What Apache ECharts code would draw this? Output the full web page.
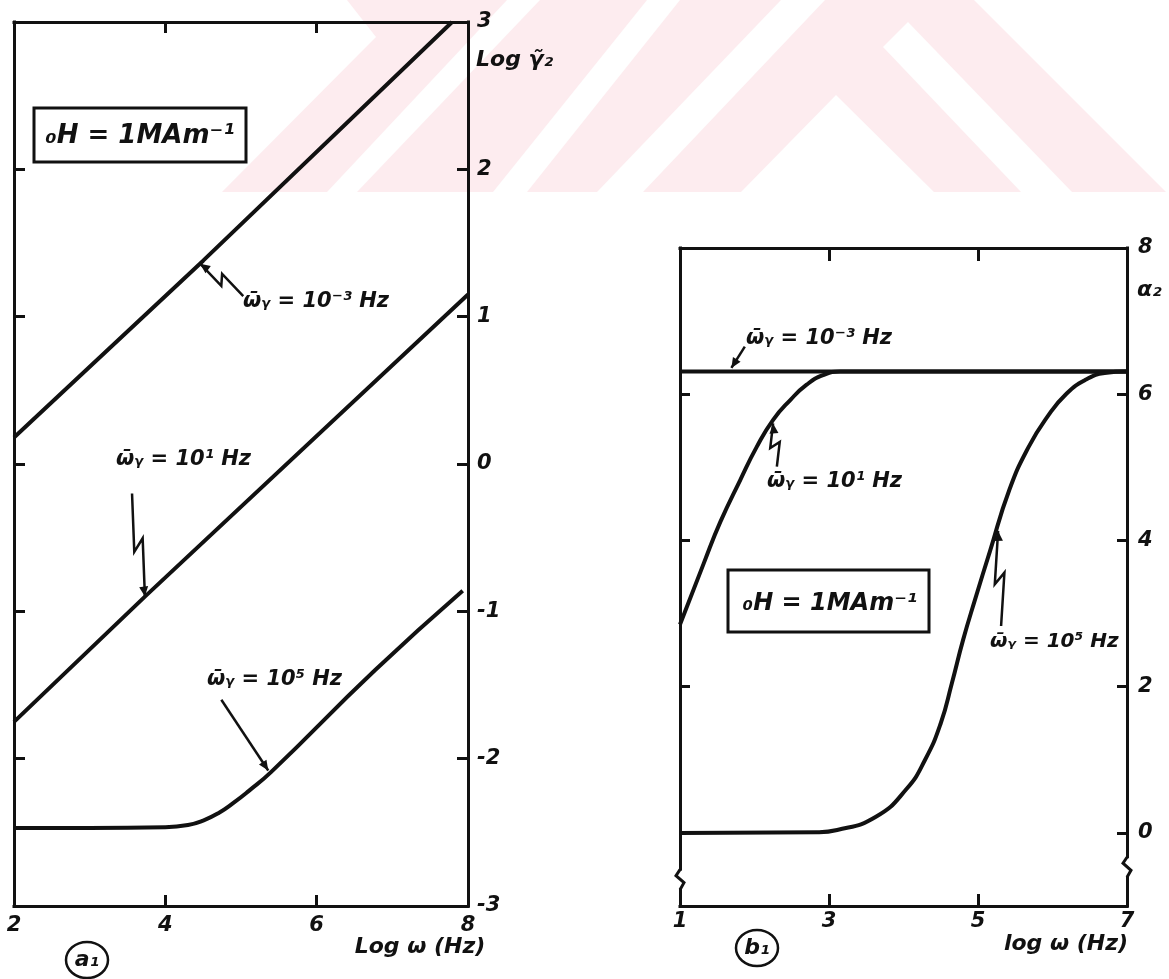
<!DOCTYPE html>
<html>
<head>
<meta charset="utf-8">
<title>γ₂ and α₂ versus log ω</title>
<script src="https://cdn.jsdelivr.net/npm/echarts@6.0.0/dist/echarts.min.js"></script>
<style>
  html, body { margin: 0; padding: 0; background: #fff; }
  #chart { width: 1169px; height: 979px; }
</style>
</head>
<body>
<div id="chart"></div>
<script>
// ---- panel (a1): log γ₂ against log ω ----
const aAxisX = [2, 8];          // log ω range
const aAxisY = [-3, 3];         // log γ₂ range
// ω̄γ = 10⁻³ Hz
const aW3X = [2, 4.5, 7.79];
const aW3Y = [0.18, 1.38, 3.0];
// ω̄γ = 10¹ Hz
const aW1X = [2, 3.73, 8];
const aW1Y = [-1.75, -0.9, 1.15];
// ω̄γ = 10⁵ Hz
const aW5X = [2, 3, 4, 4.3, 4.5, 4.7, 4.9, 5.1, 5.4, 6.77, 7.93];
const aW5Y = [-2.47, -2.47, -2.465, -2.45, -2.42, -2.37, -2.3, -2.22, -2.09, -1.4, -0.86];

// ---- panel (b1): α₂ against log ω ----
const bAxisX = [1, 7];
const bAxisY = [-1, 8];
const bLabelsX = [1, 3, 5, 7];
const bLabelsY = [0, 2, 4, 6, 8];
// ω̄γ = 10⁻³ Hz
const bW3X = [1, 7];
const bW3Y = [6.31, 6.31];
// ω̄γ = 10¹ Hz
const bW1X = [1, 1.32, 1.54, 1.81, 2.03, 2.25, 2.48, 2.7, 2.92, 3.15, 7];
const bW1Y = [2.85, 3.69, 4.25, 4.83, 5.28, 5.65, 5.92, 6.13, 6.26, 6.31, 6.31];
// ω̄γ = 10⁵ Hz
const bW5X = [1, 2.85, 3.11, 3.63, 4.04, 4.29, 4.5, 4.65, 4.8, 4.96, 5.16, 5.42, 5.68, 5.93, 6.19, 6.45, 6.7, 7];
const bW5Y = [0, 0.01, 0.04, 0.22, 0.6, 1.0, 1.5, 2.05, 2.64, 3.19, 3.85, 4.69, 5.28, 5.69, 6.01, 6.2, 6.29, 6.31];

const INK = '#111';
const FONT = '"DejaVu Sans", sans-serif';
const zip = (xs, ys) => xs.map((x, i) => [x, ys[i]]);

const labelStyle = {
  color: INK, fontFamily: FONT, fontStyle: 'italic', fontWeight: 'bold', fontSize: 21
};
const frameLine = { lineStyle: { color: INK, width: 3, cap: 'square' } };

function frameAxis(extra) {
  return Object.assign({
    type: 'value',
    axisLine: Object.assign({ show: true, onZero: false }, frameLine),
    axisTick: { show: true, inside: true, length: 11, lineStyle: { color: INK, width: 3 } },
    axisLabel: { show: false },
    splitLine: { show: false }
  }, extra);
}

function curve(name, xs, ys, xi, yi, smooth) {
  return {
    name, type: 'line', xAxisIndex: xi, yAxisIndex: yi,
    data: zip(xs, ys), showSymbol: false, symbol: 'none',
    smooth: smooth ? 0.5 : false,
    lineStyle: { color: INK, width: 4 }, z: 5, silent: true
  };
}

const chart = echarts.init(document.getElementById('chart'), null, { renderer: 'canvas' });

chart.setOption({
  backgroundColor: '#fff',
  animation: false,
  grid: [
    { left: 14, top: 22, width: 454, height: 884, containLabel: false },
    { left: 680, top: 248, width: 447, height: 658, containLabel: false }
  ],
  xAxis: [
    frameAxis({ gridIndex: 0, position: 'bottom', min: aAxisX[0], max: aAxisX[1], interval: 2,
      axisLabel: Object.assign({ show: true, margin: 9 }, labelStyle) }),
    frameAxis({ gridIndex: 0, position: 'top', min: aAxisX[0], max: aAxisX[1], interval: 2 }),
    frameAxis({ gridIndex: 1, position: 'bottom', min: bAxisX[0], max: bAxisX[1], interval: 1,
      axisTick: { show: true, inside: true, length: 12, customValues: [3, 5], lineStyle: { color: INK, width: 3 } },
      axisLabel: Object.assign({ show: true, margin: 5, customValues: bLabelsX }, labelStyle) }),
    frameAxis({ gridIndex: 1, position: 'top', min: bAxisX[0], max: bAxisX[1], interval: 1,
      axisTick: { show: true, inside: true, length: 13, customValues: [3, 5], lineStyle: { color: INK, width: 3 } } })
  ],
  yAxis: [
    frameAxis({ gridIndex: 0, position: 'left', min: aAxisY[0], max: aAxisY[1], interval: 1 }),
    frameAxis({ gridIndex: 0, position: 'right', min: aAxisY[0], max: aAxisY[1], interval: 1,
      axisLabel: Object.assign({ show: true, margin: 9, align: 'left' }, labelStyle) }),
    frameAxis({ gridIndex: 1, position: 'left', min: bAxisY[0], max: bAxisY[1], interval: 1,
      axisTick: { show: true, inside: true, length: 10, customValues: [2, 4, 6], lineStyle: { color: INK, width: 3 } } }),
    frameAxis({ gridIndex: 1, position: 'right', min: bAxisY[0], max: bAxisY[1], interval: 1,
      axisTick: { show: true, inside: true, length: 10, customValues: [0, 2, 4, 6], lineStyle: { color: INK, width: 3 } },
      axisLabel: Object.assign({ show: true, margin: 11, align: 'left', customValues: bLabelsY }, labelStyle) })
  ],
  series: [
    curve('ω̄γ = 10⁻³ Hz (a1)', aW3X, aW3Y, 0, 1, false),
    curve('ω̄γ = 10¹ Hz (a1)', aW1X, aW1Y, 0, 1, false),
    curve('ω̄γ = 10⁵ Hz (a1)', aW5X, aW5Y, 0, 1, true),
    curve('ω̄γ = 10⁻³ Hz (b1)', bW3X, bW3Y, 2, 3, false),
    curve('ω̄γ = 10¹ Hz (b1)', bW1X, bW1Y, 2, 3, true),
    curve('ω̄γ = 10⁵ Hz (b1)', bW5X, bW5Y, 2, 3, true)
  ]
});

// ---- annotations ----
const toPx = (panel, p) => chart.convertToPixel({ seriesIndex: panel === 'a' ? 0 : 3 }, p);

function text(str, x, y, size, align, extra) {
  return Object.assign({
    type: 'text', x, y, z: 20, silent: true,
    style: {
      text: str, fill: INK, font: 'italic bold ' + size + 'px ' + FONT,
      align: align || 'left', textAlign: align || 'left',
      verticalAlign: 'middle', textVerticalAlign: 'middle'
    }
  }, extra || {});
}

// pointer from a label to its curve, optionally with a lightning-style kink
function pointer(panel, tail, tip, kink) {
  const p0 = toPx(panel, tail), p1 = toPx(panel, tip);
  const dx = p1[0] - p0[0], dy = p1[1] - p0[1];
  const L = Math.hypot(dx, dy), ux = dx / L, uy = dy / L, nx = -uy, ny = ux;
  const pts = [p0];
  if (kink) {
    const k = 5;
    pts.push([p0[0] + dx * 0.56 + nx * k, p0[1] + dy * 0.56 + ny * k]);
    pts.push([p0[0] + dx * 0.44 - nx * k, p0[1] + dy * 0.44 - ny * k]);
  }
  pts.push(p1);
  const h = 10, w = 4.5;
  const b = [p1[0] - ux * h, p1[1] - uy * h];
  return [
    { type: 'polyline', z: 20, silent: true, shape: { points: pts },
      style: { stroke: INK, lineWidth: 2.5, fill: null, lineJoin: 'miter' } },
    { type: 'polygon', z: 20, silent: true,
      shape: { points: [p1, [b[0] + nx * w, b[1] + ny * w], [b[0] - nx * w, b[1] - ny * w]] },
      style: { fill: INK } }
  ];
}

// small zigzag marking the broken α₂ scale below zero
function axisBreak(panel, at) {
  const p = toPx(panel, at);
  return [
    { type: 'rect', z: 15, silent: true, shape: { x: p[0] - 3, y: p[1] - 9, width: 6, height: 18 }, style: { fill: '#fff' } },
    { type: 'polyline', z: 16, silent: true,
      shape: { points: [[p[0], p[1] - 10], [p[0] - 4, p[1] - 4], [p[0] + 4, p[1] + 3], [p[0], p[1] + 10]] },
      style: { stroke: INK, lineWidth: 3, fill: null } }
  ];
}

// faint stamp in the page background
const STAMP = '#fdecef';
const stamp = [
  [[347, 0], [507, 0], [327, 192], [222, 192], [376, 37]],
  [[540, 0], [647, 0], [493, 192], [357, 192]],
  [[680, 0], [781, 0], [597, 192], [527, 192]],
  [[825, 0], [974, 0], [1166, 192], [934, 192], [836, 95], [741, 192], [643, 192]]
].map(pts => ({ type: 'polygon', z: -5, silent: true, shape: { points: pts }, style: { fill: STAMP } }));
stamp.push({ type: 'polygon', z: -4, silent: true,
  shape: { points: [[908, 22], [1072, 192], [1021, 192], [883, 47]] }, style: { fill: '#fff' } });

const graphics = [].concat(
  stamp,
  // panel (a1)
  [
    { type: 'rect', z: 20, silent: true, shape: { x: 34, y: 108, width: 212, height: 54 },
      style: { fill: null, stroke: INK, lineWidth: 3 } },
    text('₀H = 1MAm⁻¹', 140, 136, 26, 'center'),
    text('ω̄ᵧ = 10⁻³ Hz', 243, 302, 21),
    text('ω̄ᵧ = 10¹ Hz', 116, 460, 21),
    text('ω̄ᵧ = 10⁵ Hz', 207, 680, 21),
    text('Log γ̃₂', 476, 60, 22),
    text('Log ω (Hz)', 420, 947, 22, 'center'),
    { type: 'ellipse', z: 20, silent: true, shape: { cx: 87, cy: 960, rx: 21, ry: 18 },
      style: { fill: null, stroke: INK, lineWidth: 2.5 } },
    text('a₁', 87, 960, 22, 'center')
  ],
  pointer('a', [5.03, 1.14], [4.46, 1.36], true),
  pointer('a', [3.56, -0.2], [3.73, -0.9], true),
  pointer('a', [4.74, -1.6], [5.36, -2.08], false),
  // panel (b1)
  [
    { type: 'rect', z: 20, silent: true, shape: { x: 728, y: 570, width: 201, height: 62 },
      style: { fill: null, stroke: INK, lineWidth: 3 } },
    text('₀H = 1MAm⁻¹', 830, 604, 24, 'center'),
    text('ω̄ᵧ = 10⁻³ Hz', 746, 339, 21),
    text('ω̄ᵧ = 10¹ Hz', 767, 482, 21),
    text('ω̄ᵧ = 10⁵ Hz', 990, 642, 20),
    text('α₂', 1137, 290, 22),
    text('log ω (Hz)', 1066, 944, 22, 'center'),
    { type: 'ellipse', z: 20, silent: true, shape: { cx: 757, cy: 948, rx: 21, ry: 18 },
      style: { fill: null, stroke: INK, lineWidth: 2.5 } },
    text('b₁', 757, 948, 22, 'center')
  ],
  pointer('b', [1.87, 6.65], [1.69, 6.36], false),
  pointer('b', [2.3, 5.01], [2.25, 5.6], true),
  pointer('b', [5.31, 2.83], [5.27, 4.13], true),
  axisBreak('b', [1, -0.64]),
  axisBreak('b', [7, -0.47])
);

chart.setOption({ graphic: graphics });
</script>
</body>
</html>
